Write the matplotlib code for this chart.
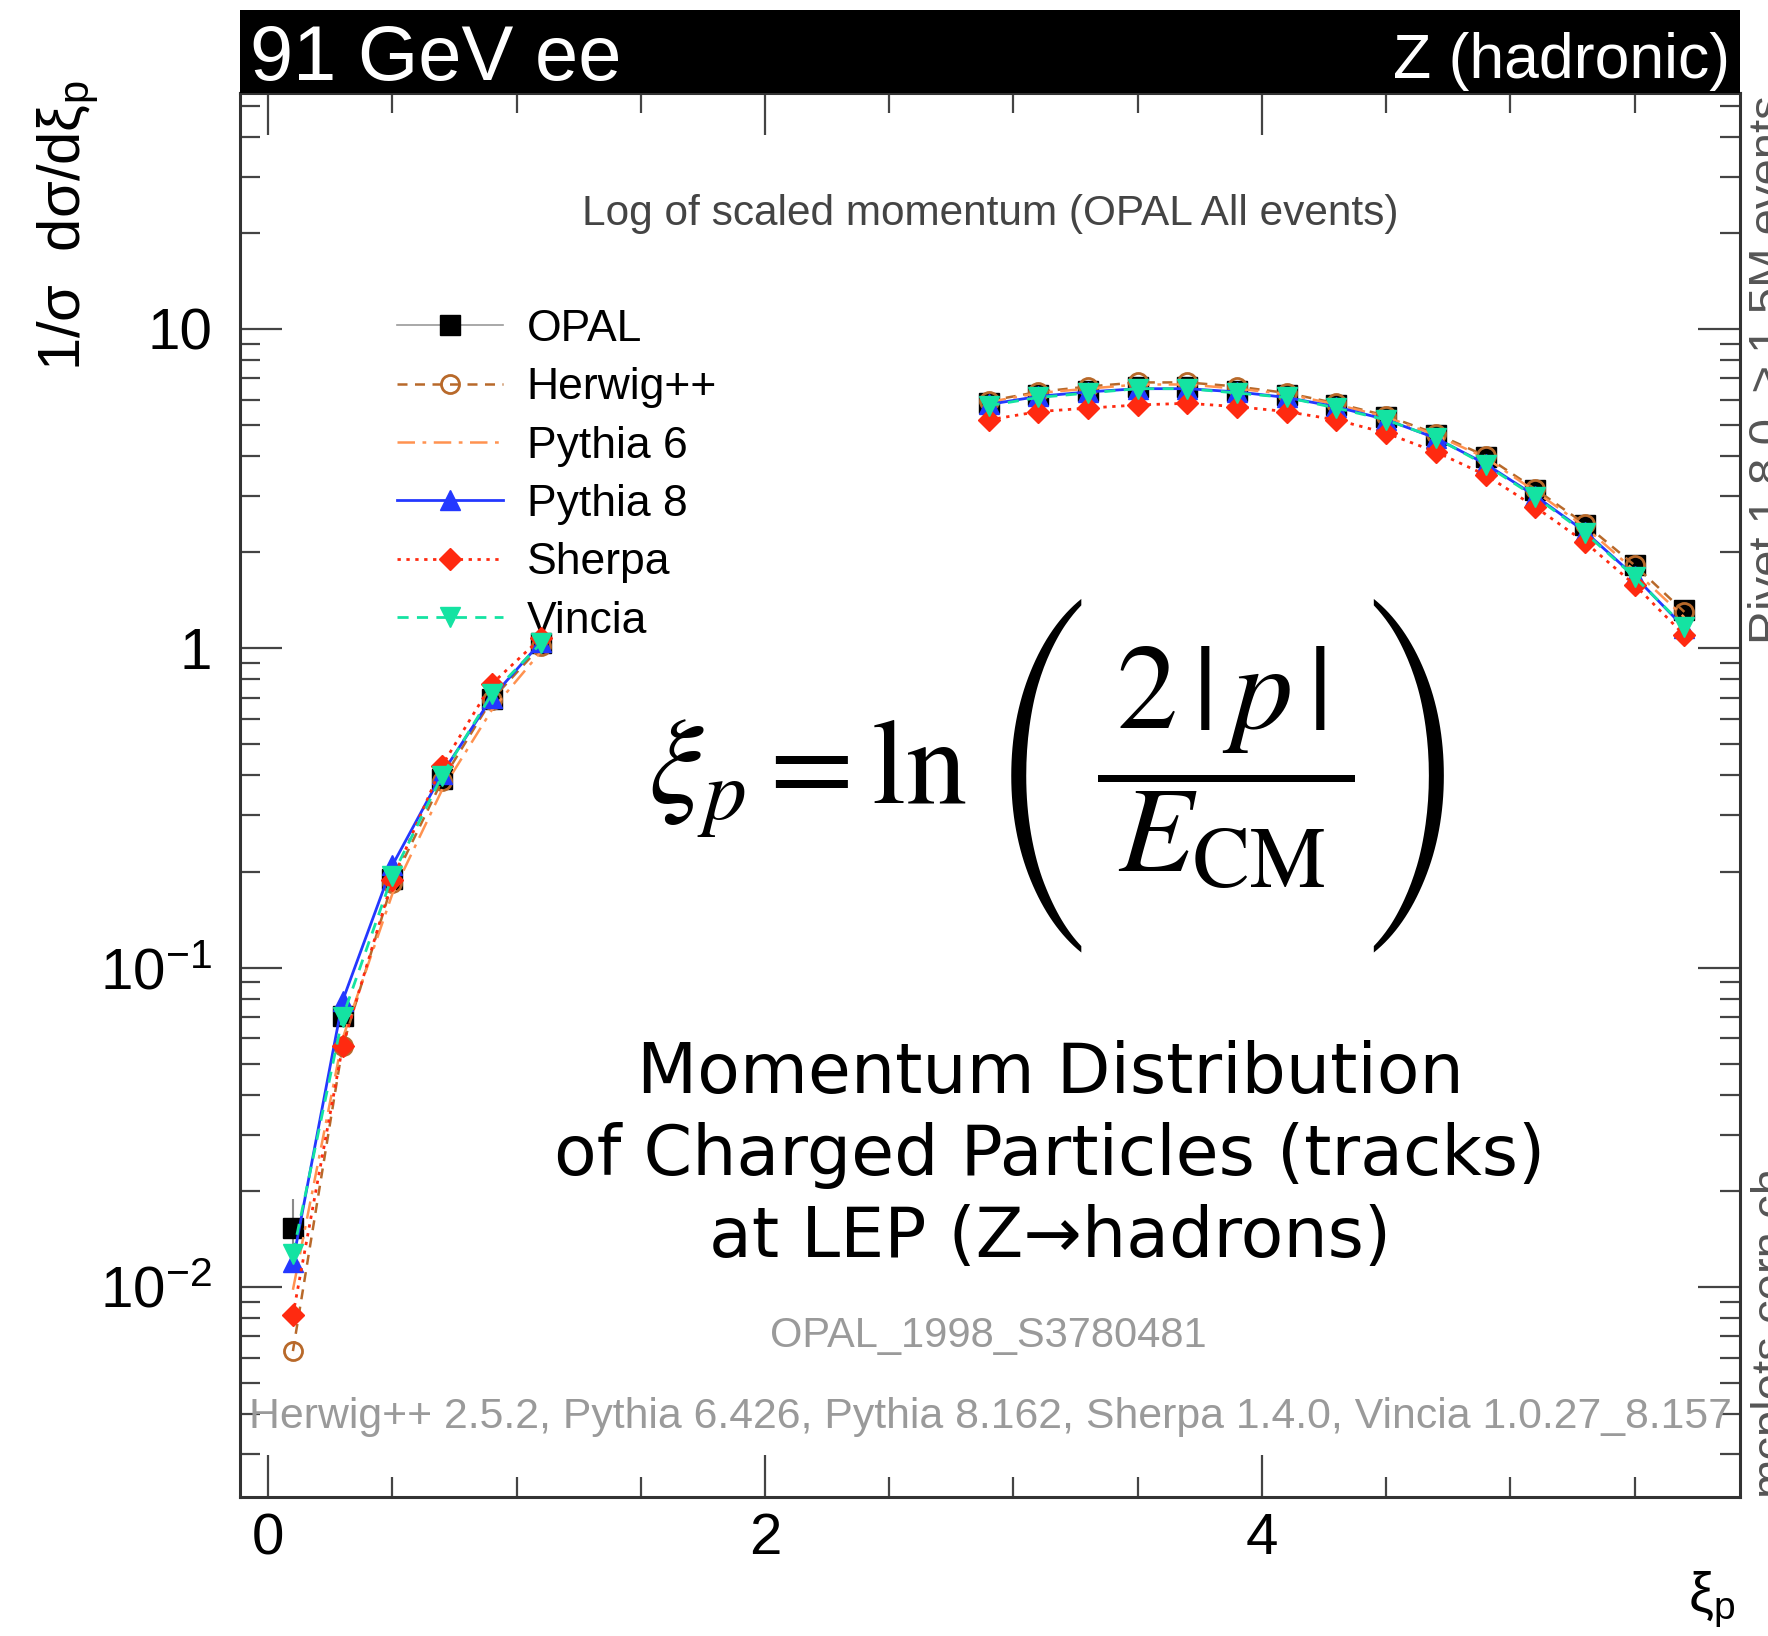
import numpy as np
import matplotlib
matplotlib.use("Agg")
import matplotlib.pyplot as plt
from matplotlib.lines import Line2D
from matplotlib.ticker import FixedLocator, MultipleLocator, LogLocator, NullFormatter

nan = np.nan

# ---------------- data ----------------
xi = [0.1, 0.3, 0.5, 0.7, 0.9, 1.1, 1.3, 1.5, 1.7, 1.9, 2.1, 2.3, 2.5, 2.7,
      2.9, 3.1, 3.3, 3.5, 3.7, 3.9, 4.1, 4.3, 4.5, 4.7, 4.9, 5.1, 5.3, 5.5, 5.7]

opal = [0.0153, 0.0705, 0.190, 0.391, 0.692, 1.04,
        nan, nan, nan, nan, nan, nan, nan, nan,
        5.85, 6.21, 6.37, 6.57, 6.57, 6.37, 6.21, 5.78, 5.31, 4.66, 3.98, 3.13, 2.43, 1.82, 1.32]
opal_err = [0.0036, 0.004, 0.008, 0.012, 0.02, 0.03,
            nan, nan, nan, nan, nan, nan, nan, nan,
            0.12, 0.12, 0.12, 0.12, 0.12, 0.12, 0.12, 0.11, 0.1, 0.09, 0.08, 0.07, 0.06, 0.05, 0.05]
herwig = [0.0063, 0.0567, 0.184, 0.385, 0.69, 1.02,
          nan, nan, nan, nan, nan, nan, nan, nan,
          5.95, 6.35, 6.6, 6.8, 6.8, 6.6, 6.3, 5.85, 5.35, 4.7, 4.0, 3.15, 2.45, 1.82, 1.30]
pythia6 = [0.0098, 0.060, 0.17, 0.36, 0.64, 0.98,
           nan, nan, nan, nan, nan, nan, nan, nan,
           5.9, 6.3, 6.5, 6.7, 6.7, 6.5, 6.25, 5.8, 5.3, 4.65, 3.95, 3.1, 2.4, 1.75, 1.25]
pythia8 = [0.0120, 0.0788, 0.209, 0.405, 0.70, 1.05,
           nan, nan, nan, nan, nan, nan, nan, nan,
           5.8, 6.15, 6.35, 6.5, 6.5, 6.35, 6.1, 5.7, 5.2, 4.55, 3.78, 3.0, 2.32, 1.68, 1.16]
sherpa = [0.00817, 0.0567, 0.188, 0.429, 0.773, 1.08,
          nan, nan, nan, nan, nan, nan, nan, nan,
          5.19, 5.51, 5.65, 5.78, 5.85, 5.71, 5.51, 5.19, 4.72, 4.12, 3.49, 2.77, 2.15, 1.58, 1.10]
vincia = [0.0127, 0.070, 0.194, 0.399, 0.718, 1.04,
          nan, nan, nan, nan, nan, nan, nan, nan,
          5.75, 6.1, 6.3, 6.5, 6.5, 6.3, 6.1, 5.65, 5.19, 4.56, 3.75, 2.98, 2.30, 1.67, 1.17]

legend_names = ["OPAL", "Herwig++", "Pythia 6", "Pythia 8", "Sherpa", "Vincia"]
xtick_vals = [0, 2, 4]
xtick_labels = ["0", "2", "4"]
ytick_vals = [0.01, 0.1, 1, 10]
ytick_labels = ["10$^{-2}$", "10$^{-1}$", "1", "10"]

# ---------------- style ----------------
plt.rcParams["font.family"] = ["Liberation Sans", "DejaVu Sans"]
plt.rcParams["mathtext.fontset"] = "custom"
plt.rcParams["mathtext.rm"] = "Liberation Sans"
plt.rcParams["mathtext.it"] = "Liberation Sans:italic"
plt.rcParams["mathtext.bf"] = "Liberation Sans:bold"
plt.rcParams["mathtext.sf"] = "Liberation Sans"

W, H = 1768, 1636
DPI = 100
fig = plt.figure(figsize=(W / DPI, H / DPI), dpi=DPI)
fig.patch.set_facecolor("white")

def fx(px):
    return px / W

def fy(py):
    return 1 - py / H

AX_L, AX_R, AX_T, AX_B = 240, 1740, 93, 1497
ax = fig.add_axes([fx(AX_L), fy(AX_B), (AX_R - AX_L) / W, (AX_B - AX_T) / H])
ax.set_yscale("log")
ax.set_xlim(-0.113, 5.924)
ax.set_ylim(0.0022, 54.8)

c_herwig = "#b8692a"
c_py6 = "#ff9250"
c_py8 = "#2438ff"
c_sherpa = "#ff2a10"
c_vincia = "#14e3a2"

ax.errorbar(xi, opal, yerr=opal_err, fmt="s", color="black", ms=14,
            ecolor="#8a8a8a", elinewidth=1.5, capsize=0, zorder=3)
ax.plot(xi, herwig, ls=(0, (4, 3)), color=c_herwig, lw=1.8, marker="o",
        mfc="none", mec=c_herwig, ms=13, mew=2, zorder=4)
ax.plot(xi, pythia6, ls=(0, (7, 3, 1.5, 3)), color=c_py6, lw=1.8, zorder=5)
ax.plot(xi, pythia8, ls="-", color=c_py8, lw=2.0, marker="^", ms=14, zorder=6)
ax.plot(xi, sherpa, ls=(0, (1.2, 2)), color=c_sherpa, lw=2.0, marker="D", ms=11, zorder=7)
ax.plot(xi, vincia, ls=(0, (4, 3)), color=c_vincia, lw=2.0, marker="v", ms=14, zorder=8)

# ticks
ax.xaxis.set_major_locator(FixedLocator(xtick_vals))
ax.set_xticklabels(xtick_labels)
ax.xaxis.set_minor_locator(MultipleLocator(0.5))
ax.yaxis.set_major_locator(FixedLocator(ytick_vals))
ax.set_yticklabels(ytick_labels)
ax.yaxis.set_minor_locator(LogLocator(base=10, subs=np.arange(2, 10) * 1.0, numticks=30))
ax.yaxis.set_minor_formatter(NullFormatter())
ax.tick_params(which="both", direction="in", top=True, right=True,
               color="#444444", labelcolor="black")
ax.tick_params(which="major", length=30, width=1.6, labelsize=42)
ax.tick_params(which="minor", length=14.5, width=1.6)
ax.tick_params(axis="y", which="major", pad=20)
ax.tick_params(axis="x", which="major", pad=11)
for s in ax.spines.values():
    s.set_linewidth(2.2)
    s.set_color("#333333")

# legend
handles = [
    Line2D([], [], color="#9a9a9a", lw=1.2, marker="s", mfc="black", mec="black", ms=14),
    Line2D([], [], color=c_herwig, lw=1.8, ls=(0, (4, 3)), marker="o", mfc="none", mec=c_herwig, ms=13, mew=2),
    Line2D([], [], color=c_py6, lw=1.8, ls=(0, (7, 3, 1.5, 3))),
    Line2D([], [], color=c_py8, lw=2.0, marker="^", ms=14),
    Line2D([], [], color=c_sherpa, lw=2.0, ls=(0, (1.2, 2)), marker="D", ms=11),
    Line2D([], [], color=c_vincia, lw=2.0, ls=(0, (4, 3)), marker="v", ms=14),
]
ax.legend(handles, legend_names, loc="upper left",
          bbox_to_anchor=((397 - AX_L) / (AX_R - AX_L), (AX_B - 309) / (AX_B - AX_T)),
          frameon=False, fontsize=32, handlelength=2.38, handletextpad=0.54,
          labelspacing=0.39, borderpad=0, borderaxespad=0)

# header bar
hax = fig.add_axes([fx(AX_L), fy(AX_T), (AX_R - AX_L) / W, (AX_T - 10) / H])
hax.set_facecolor("black")
hax.set_xticks([])
hax.set_yticks([])
for s in hax.spines.values():
    s.set_visible(False)
fig.text(fx(250), fy(80), "91 GeV ee", color="white", fontsize=56, ha="left", va="baseline")
fig.text(fx(1730), fy(78), "Z (hadronic)", color="white", fontsize=45, ha="right", va="baseline")

# in-plot texts
fig.text(fx(990), fy(225), "Log of scaled momentum (OPAL All events)", fontsize=30.5,
         color="#444444", ha="center", va="baseline")
fig.text(fx(988), fy(1347), "OPAL_1998_S3780481", fontsize=30, color="#9a9a9a",
         ha="center", va="baseline")
fig.text(fx(990), fy(1428),
         "Herwig++ 2.5.2, Pythia 6.426, Pythia 8.162, Sherpa 1.4.0, Vincia 1.0.27_8.157",
         fontsize=30.8, color="#9a9a9a", ha="center", va="baseline")

# axis labels
fig.text(fx(68), fy(80), "1/σ  dσ/dξ$_\\mathrm{p}$", rotation=90, fontsize=43,
         ha="center", va="top")
fig.text(fx(1712), fy(1600), "ξ$_\\mathrm{p}$", fontsize=40, ha="center", va="center")

# right side
fig.text(fx(1748), fy(95), "Rivet 1.8.0, ≥ 1.5M events", rotation=90, fontsize=34,
         color="#555555", ha="left", va="top")
fig.text(fx(1748), fy(1495), "mcplots.cern.ch", rotation=90, fontsize=34,
         color="#555555", ha="left", va="bottom")

# overlay formula and description
fig.text(fx(648), fy(804), r"$\xi_p = \ln$", fontsize=88, math_fontfamily="stix",
         ha="left", va="baseline")
fig.text(fx(1043), fy(775), "(", fontsize=83, family="STIXSizeFourSym",
         ha="center", va="center")
fig.text(fx(1226), fy(799), r"$\dfrac{\:2\,|\,p\,|\:}{E_{\mathrm{CM}}}$", fontsize=88,
         math_fontfamily="stix", ha="center", va="baseline")
fig.text(fx(1411), fy(775), ")", fontsize=83, family="STIXSizeFourSym",
         ha="center", va="center")

desc_lines = ["Momentum Distribution", "of Charged Particles (tracks)", "at LEP (Z→hadrons)"]
for line, base in zip(desc_lines, [1093, 1175, 1257]):
    fig.text(fx(1050), fy(base), line, fontsize=50.2, family="DejaVu Sans",
             ha="center", va="baseline")

fig.savefig("out.png", dpi=DPI)
